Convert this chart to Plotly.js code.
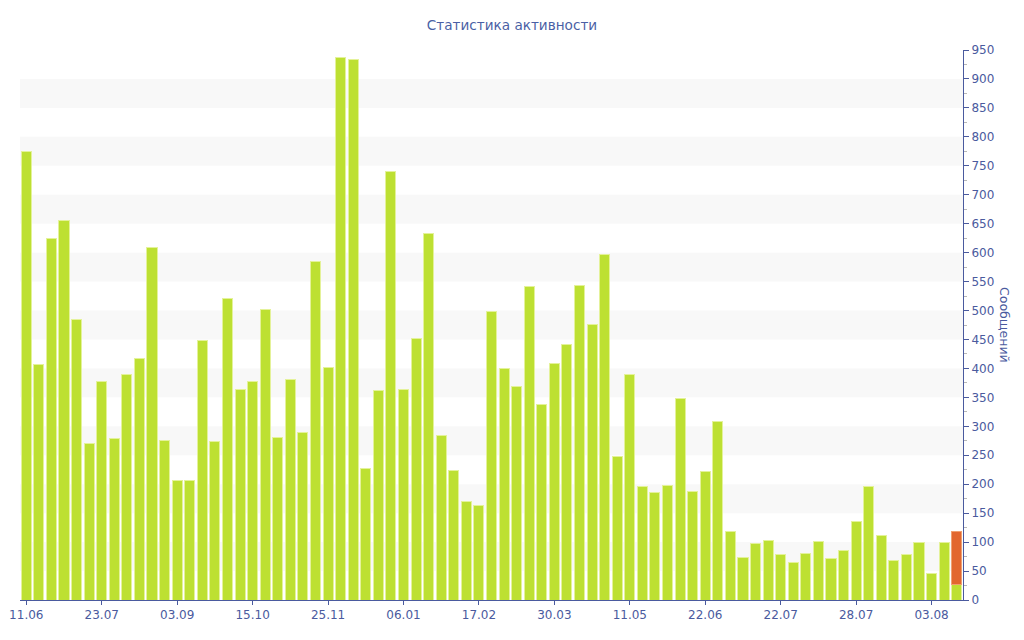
<!DOCTYPE html>
<html>
<head>
<meta charset="utf-8">
<script src="https://cdn.plot.ly/plotly-3.0.1.min.js"></script>
<style>
  html, body { margin: 0; padding: 0; background: #fff; }
  #chart { width: 1024px; height: 640px; }
</style>
</head>
<body>
<div id="chart"></div>
<script>
// weekly / daily message counts
var counts = [
  774, 407, 625, 655, 485, 271, 378, 279, 389, 417,
  609, 275, 206, 206, 448, 274, 520, 363, 378, 502,
  280, 381, 290, 584, 401, 937, 934, 227, 362, 740,
  364, 452, 633, 285, 223, 170, 164, 499, 400, 368,
  541, 337, 409, 442, 544, 476, 596, 248, 390, 196,
  185, 198, 348, 187, 222, 308, 119, 73, 98, 103,
  78, 65, 81, 101, 72, 86, 136, 196, 111, 69,
  79, 100, 46, 100, 26
]
// last bar has an extra (current) part on top
var current = []
current[74] = 93

var tickPos = [0, 6, 12, 18, 24, 30, 36, 42, 48, 54, 60, 66, 72]
var tickLabels = ['11.06', '23.07', '03.09', '15.10', '25.11', '06.01', '17.02',
                  '30.03', '11.05', '22.06', '22.07', '28.07', '03.08']

var idx = counts.map(function(v, i) { return i })
var axisColor = '#4a5a9e'

var traces = [
  {
    type: 'bar', x: idx, y: counts,
    marker: {color: '#bde032', line: {color: '#e4f29a', width: 1}},
    hoverinfo: 'y'
  },
  {
    type: 'bar', x: idx, y: idx.map(function(i) { return current[i] === undefined ? null : current[i] }),
    marker: {color: '#e2672f', line: {color: '#f0a070', width: 1}},
    hoverinfo: 'y'
  }
]

// light horizontal bands
var bands = []
for (var b = 50; b < 950; b += 100) {
  bands.push({
    type: 'rect', xref: 'paper', yref: 'y', x0: 0, x1: 1, y0: b, y1: b + 50,
    fillcolor: '#f8f8f8', line: {width: 0}, layer: 'below'
  })
}

var layout = {
  width: 1024, height: 640,
  margin: {l: 20, r: 61, t: 50, b: 40},
  paper_bgcolor: '#fff', plot_bgcolor: '#fff',
  font: {family: 'DejaVu Sans, Verdana, sans-serif', size: 12, color: axisColor},
  title: {text: 'Статистика активности', x: 0.5, xanchor: 'center',
          y: 0.961, yanchor: 'middle',
          font: {size: 13.6, color: '#4a5fa5'}},
  barmode: 'stack', bargap: 0.2,
  showlegend: false,
  shapes: bands,
  xaxis: {
    range: [-0.5, counts.length - 0.5],
    tickmode: 'array', tickvals: tickPos, ticktext: tickLabels,
    ticks: 'outside', ticklen: 4, tickcolor: axisColor,
    showline: true, linecolor: axisColor, linewidth: 1,
    showgrid: false, zeroline: false,
    tickfont: {size: 12, color: axisColor}
  },
  yaxis: {
    side: 'right', range: [0, 950],
    tickmode: 'linear', tick0: 0, dtick: 50,
    ticks: 'outside', ticklen: 5, tickcolor: axisColor,
    minor: {dtick: 25, ticks: 'outside', ticklen: 3, tickcolor: '#b8b8b8'},
    showline: true, linecolor: axisColor, linewidth: 1,
    showgrid: false, zeroline: false,
    tickfont: {size: 12, color: axisColor}
  },
  annotations: [{
    text: 'Сообщений', xref: 'paper', yref: 'paper', x: 1.0445, y: 0.5,
    xanchor: 'center', yanchor: 'middle', textangle: 90, showarrow: false,
    font: {size: 12.5, color: axisColor}
  }]
}

Plotly.newPlot('chart', traces, layout, {displayModeBar: false})
</script>
</body>
</html>
